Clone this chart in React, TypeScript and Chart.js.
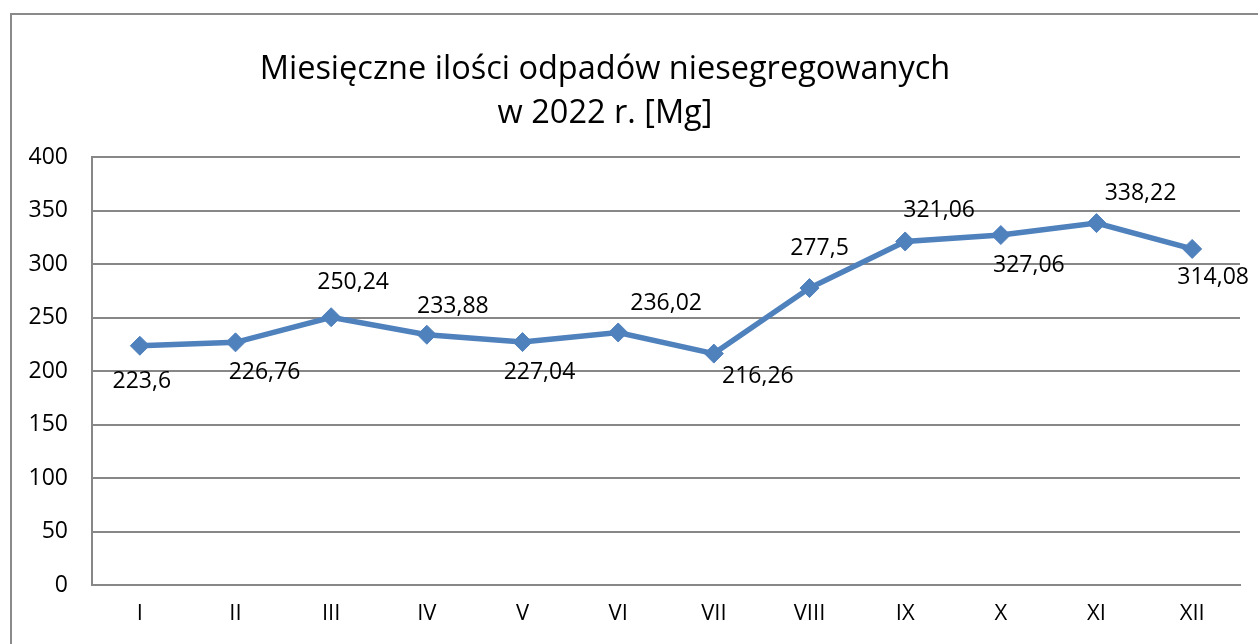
import React, { useEffect, useRef } from "react";
import { Chart, registerables } from "chart.js";

Chart.register(...registerables);

const TITLE_LINES = ["Miesięczne ilości odpadów niesegregowanych", "w 2022 r. [Mg]"];
const MONTHS = ["I", "II", "III", "IV", "V", "VI", "VII", "VIII", "IX", "X", "XI", "XII"];
const VALUES = [223.6, 226.76, 250.24, 233.88, 227.04, 236.02, 216.26, 277.5, 321.06, 327.06, 338.22, 314.08];
const Y_MIN = 0;
const Y_MAX = 400;
const Y_STEP = 50;

// label placement offsets (dx, dy) from each point, in px
const LABEL_OFFSETS: [number, number][] = [
  [2, 36], [29, 30], [22, -35], [26, -28], [17, 30], [48, -29],
  [44, 23], [10, -40], [34, -31], [28, 30], [44, -30], [21, 29],
];

const FONT = "'Open Sans', Lato, sans-serif";
const LINE_COLOR = "#4F81BD";
const GRID_COLOR = "#878787";

const fmt = (v: number) => String(v).replace(".", ",");

const framePlugin = {
  id: "frame",
  beforeDraw(chart: any) {
    const ctx = chart.ctx;
    ctx.save();
    ctx.fillStyle = "#ffffff";
    ctx.fillRect(0, 0, chart.width, chart.height);
    ctx.strokeStyle = "#8a8a8a";
    ctx.lineWidth = 2;
    ctx.strokeRect(11, 14, chart.width + 50, chart.height + 50);
    ctx.restore();
  },
};

const titlePlugin = {
  id: "customTitle",
  afterDraw(chart: any) {
    const ctx = chart.ctx;
    ctx.save();
    ctx.fillStyle = "#000";
    ctx.font = `32.5px ${FONT}`;
    ctx.textAlign = "center";
    ctx.textBaseline = "middle";
    ctx.fillText(TITLE_LINES[0], 605, 70);
    ctx.fillText(TITLE_LINES[1], 605, 114);
    ctx.restore();
  },
};

const labelPlugin = {
  id: "pointLabels",
  afterDatasetsDraw(chart: any) {
    const ctx = chart.ctx;
    const meta = chart.getDatasetMeta(0);
    ctx.save();
    ctx.fillStyle = "#000";
    ctx.font = `23px ${FONT}`;
    ctx.textAlign = "center";
    ctx.textBaseline = "middle";
    meta.data.forEach((pt: any, i: number) => {
      const [dx, dy] = LABEL_OFFSETS[i];
      ctx.fillText(fmt(VALUES[i]), pt.x + dx, pt.y + dy);
    });
    ctx.restore();
  },
};

export default function App() {
  const ref = useRef<HTMLCanvasElement | null>(null);
  useEffect(() => {
    if (!ref.current) return;
    const chart = new Chart(ref.current, {
      type: "line",
      data: {
        labels: MONTHS,
        datasets: [
          {
            data: VALUES,
            borderColor: LINE_COLOR,
            backgroundColor: LINE_COLOR,
            borderWidth: 5.5,
            pointStyle: "rectRot",
            pointRadius: 9.5,
            pointBackgroundColor: LINE_COLOR,
            pointBorderColor: LINE_COLOR,
            pointBorderWidth: 1,
            tension: 0,
          },
        ],
      },
      options: {
        animation: false,
        responsive: false,
        devicePixelRatio: 1,
        layout: { padding: { top: 157, right: 18, left: 0, bottom: 0 } },
        plugins: {
          legend: { display: false },
          title: { display: false },
          tooltip: { enabled: false },
        },
        scales: {
          x: {
            offset: true,
            grid: { display: false, drawTicks: false },
            border: { color: GRID_COLOR, width: 2 },
            ticks: { color: "#000", font: { family: FONT, size: 22 }, padding: 16 },
            afterFit: (s: any) => { s.height = 59; },
          },
          y: {
            min: Y_MIN,
            max: Y_MAX,
            grid: { color: GRID_COLOR, lineWidth: 2, drawTicks: false },
            border: { color: GRID_COLOR, width: 2 },
            ticks: { stepSize: Y_STEP, color: "#000", font: { family: FONT, size: 23 }, padding: 24 },
            afterFit: (s: any) => { s.width = 92; },
          },
        },
      },
      plugins: [framePlugin, titlePlugin, labelPlugin],
    });
    return () => chart.destroy();
  }, []);
  return (
    <div style={{ position: "fixed", left: 0, top: 0, width: 1258, height: 644 }}>
      <canvas ref={ref} width={1258} height={644} style={{ display: "block" }} />
    </div>
  );
}
